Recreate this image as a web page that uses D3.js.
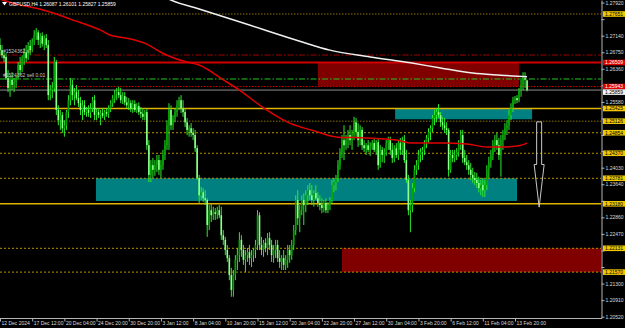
<!DOCTYPE html>
<html>
<head>
<meta charset="utf-8">
<script src="https://cdn.jsdelivr.net/npm/d3@7"></script>
<style>
body{margin:0;background:#000;}
svg{display:block;font-family:"Liberation Sans",Arial,sans-serif;}
</style>
</head>
<body>
<svg id="chart" width="625" height="328"></svg>
<script>
let symbol = 'GBPUSD,H4';

// H4 bars: open, high, low, close in points (0.0001)
let ohlc = [
[12692,12708,12668,12680],[12680,12692,12661,12668],[12668,12675,12652,12661],[12664,12673,12610,12614],
[12614,12633,12581,12591],[12591,12621,12570,12610],[12610,12628,12586,12598],[12598,12614,12581,12605],
[12605,12619,12591,12614],[12614,12652,12610,12645],[12645,12664,12621,12633],[12633,12668,12628,12661],
[12661,12685,12645,12675],[12675,12692,12652,12661],[12661,12699,12657,12690],[12690,12704,12668,12680],
[12680,12708,12675,12699],[12699,12727,12692,12715],[12715,12732,12704,12722],[12722,12727,12692,12704],
[12704,12720,12685,12713],[12713,12722,12688,12695],[12695,12715,12680,12708],[12708,12718,12685,12692],
[12692,12704,12562,12574],[12574,12598,12562,12586],[12586,12605,12567,12591],[12591,12664,12581,12652],
[12652,12657,12527,12539],[12539,12550,12503,12515],[12515,12539,12492,12527],[12527,12534,12485,12496],
[12496,12515,12476,12503],[12503,12539,12492,12534],[12534,12574,12520,12562],[12562,12614,12550,12598],
[12598,12610,12562,12574],[12574,12591,12550,12581],[12581,12598,12562,12567],[12567,12586,12546,12555],
[12555,12570,12527,12539],[12539,12562,12515,12550],[12550,12562,12527,12534],[12534,12546,12523,12539],
[12539,12550,12523,12532],[12532,12555,12520,12543],[12543,12570,12534,12562],[12562,12574,12515,12527],
[12527,12543,12515,12534],[12534,12543,12520,12527],[12527,12539,12503,12532],[12532,12543,12520,12525],
[12525,12539,12515,12534],[12534,12543,12523,12530],[12530,12550,12520,12543],[12543,12562,12534,12555],
[12555,12574,12546,12567],[12567,12586,12555,12577],[12577,12591,12562,12581],[12581,12594,12567,12574],
[12574,12591,12555,12562],[12562,12581,12553,12572],[12572,12581,12550,12557],[12557,12570,12543,12550],
[12550,12567,12539,12555],[12555,12562,12534,12543],[12543,12562,12532,12553],[12553,12562,12534,12539],
[12539,12555,12532,12548],[12548,12557,12527,12534],[12534,12546,12520,12530],[12530,12543,12515,12523],
[12523,12539,12515,12534],[12534,12543,12445,12456],[12456,12468,12369,12386],[12386,12421,12369,12409],
[12409,12426,12379,12398],[12398,12421,12384,12409],[12409,12433,12393,12421],[12421,12433,12386,12398],
[12398,12421,12379,12409],[12409,12445,12398,12433],[12433,12468,12421,12456],[12456,12515,12445,12503],
[12503,12555,12445,12539],[12539,12550,12492,12503],[12503,12527,12492,12520],[12520,12543,12510,12534],
[12534,12562,12523,12550],[12550,12570,12539,12562],[12562,12574,12532,12543],[12543,12562,12523,12534],
[12534,12543,12499,12510],[12510,12520,12480,12492],[12492,12503,12476,12496],[12496,12508,12476,12485],
[12485,12496,12468,12480],[12480,12492,12440,12449],[12449,12456,12374,12379],[12379,12386,12320,12338],
[12338,12358,12327,12345],[12345,12355,12322,12331],[12331,12350,12315,12327],[12327,12331,12240,12268],
[12268,12315,12256,12303],[12303,12320,12275,12291],[12291,12311,12280,12298],[12298,12308,12280,12294],
[12294,12311,12282,12303],[12303,12315,12284,12291],[12291,12311,12233,12244],[12244,12256,12221,12233],
[12233,12240,12197,12209],[12209,12221,12181,12190],[12190,12197,12138,12150],[12150,12167,12099,12115],
[12115,12162,12099,12150],[12150,12197,12138,12186],[12186,12214,12162,12197],[12197,12251,12181,12233],
[12233,12244,12193,12209],[12209,12221,12174,12186],[12186,12209,12157,12197],[12197,12214,12181,12204],
[12204,12221,12174,12190],[12190,12209,12169,12197],[12197,12214,12181,12209],[12209,12233,12190,12221],
[12221,12303,12209,12291],[12291,12298,12209,12221],[12221,12240,12197,12209],[12209,12233,12193,12226],
[12226,12237,12204,12214],[12214,12249,12197,12237],[12237,12251,12209,12221],[12221,12233,12181,12197],
[12197,12221,12179,12209],[12209,12233,12190,12221],[12221,12233,12181,12190],[12190,12209,12167,12181],
[12181,12197,12162,12190],[12190,12209,12162,12174],[12174,12197,12162,12186],[12186,12221,12167,12209],
[12209,12221,12179,12197],[12197,12233,12186,12221],[12221,12268,12209,12256],[12256,12338,12244,12327],
[12327,12350,12268,12284],[12284,12315,12251,12303],[12303,12338,12291,12327],[12327,12343,12268,12315],
[12315,12350,12298,12338],[12338,12362,12315,12350],[12350,12367,12327,12338],[12338,12362,12315,12327],
[12327,12350,12311,12343],[12343,12362,12327,12331],[12331,12345,12311,12320],[12320,12338,12303,12315],
[12315,12331,12296,12308],[12308,12327,12298,12320],[12320,12331,12296,12303],[12303,12322,12296,12315],
[12315,12334,12303,12327],[12327,12374,12320,12362],[12362,12379,12345,12369],[12369,12386,12350,12379],
[12379,12421,12369,12409],[12409,12449,12398,12440],[12440,12480,12426,12468],[12468,12503,12421,12456],
[12456,12480,12445,12468],[12468,12492,12449,12480],[12480,12503,12456,12468],[12468,12492,12445,12480],
[12480,12523,12468,12510],[12510,12520,12473,12487],[12487,12508,12452,12468],[12468,12503,12456,12492],
[12492,12499,12445,12456],[12456,12468,12440,12449],[12449,12461,12433,12456],[12456,12468,12440,12445],
[12445,12463,12431,12454],[12454,12468,12445,12461],[12461,12473,12440,12445],[12445,12468,12433,12463],
[12463,12473,12398,12409],[12409,12456,12403,12445],[12445,12452,12416,12433],[12433,12449,12414,12440],
[12440,12468,12431,12461],[12461,12476,12445,12468],[12468,12476,12433,12445],[12445,12461,12414,12426],
[12426,12456,12416,12449],[12449,12461,12426,12433],[12433,12468,12421,12461],[12461,12473,12433,12445],
[12445,12476,12433,12468],[12468,12480,12414,12421],[12421,12445,12367,12374],[12374,12386,12291,12303],
[12303,12327,12251,12315],[12315,12367,12298,12355],[12355,12409,12345,12398],[12398,12421,12386,12409],
[12409,12445,12398,12433],[12433,12449,12416,12440],[12440,12452,12421,12445],[12445,12468,12433,12461],
[12461,12480,12449,12473],[12473,12496,12461,12487],[12487,12503,12468,12496],[12496,12527,12487,12520],
[12520,12539,12503,12527],[12527,12543,12510,12534],[12534,12553,12520,12527],[12527,12534,12499,12510],
[12510,12523,12492,12503],[12503,12520,12485,12496],[12496,12510,12480,12492],[12492,12496,12382,12398],
[12398,12445,12391,12433],[12433,12445,12416,12426],[12426,12445,12416,12433],[12433,12449,12421,12440],
[12440,12468,12429,12456],[12456,12492,12445,12480],[12480,12492,12414,12426],[12426,12445,12409,12416],
[12416,12433,12398,12409],[12409,12421,12386,12398],[12398,12414,12374,12386],[12386,12403,12367,12379],
[12379,12393,12362,12374],[12374,12391,12355,12367],[12367,12382,12345,12355],[12355,12374,12338,12362],
[12362,12379,12334,12350],[12350,12374,12334,12362],[12362,12409,12350,12398],[12398,12429,12379,12416],
[12416,12445,12403,12433],[12433,12468,12421,12456],[12456,12480,12440,12468],[12468,12485,12445,12456],
[12456,12473,12421,12433],[12433,12480,12382,12468],[12468,12492,12445,12480],[12480,12508,12468,12496],
[12496,12515,12480,12503],[12503,12539,12492,12527],[12527,12555,12515,12543],[12543,12570,12534,12562],
[12562,12572,12553,12567],[12567,12574,12555,12562],[12562,12591,12557,12586],[12586,12610,12570,12598],
[12598,12628,12586,12614],[12614,12628,12591,12610],[12608.7,12610.1,12582.7,12585.9]
];

let timeLabels = ['12 Dec 2024','17 Dec 12:00','20 Dec 04:00','24 Dec 20:00','30 Dec 20:00','3 Jan 12:00',
    '8 Jan 04:00','10 Jan 20:00','15 Jan 12:00','20 Jan 04:00','22 Jan 20:00','27 Jan 12:00',
    '30 Jan 04:00','3 Feb 20:00','6 Feb 12:00','11 Feb 04:00','13 Feb 20:00'];
let labelEvery = 16;

let priceTicks = [1.27920,1.27530,1.27140,1.26750,1.26360,1.25970,1.25580,1.25190,1.24800,1.24420,
    1.24030,1.23640,1.23250,1.22860,1.22470,1.22080,1.21690,1.21300,1.20910,1.20520];

// moving averages [bar, price]
let maRed = [[0,1.2800],[6,1.2791],[21,1.2775],[28,1.2765],[35,1.2753],[50,1.2727],[55,1.2715],[63,1.2708],
    [73,1.2694],[80,1.2675],[83,1.2668],[93,1.2652],[99,1.2645],[111,1.2610],[119,1.2586],[131,1.2544],
    [144,1.2508],[156,1.2490],[168,1.2475],[182,1.2473],[197,1.2468],[205,1.2461],[220,1.2461],[232,1.2459],
    [242,1.2452],[250,1.2452],[257,1.2454],[262,1.2461]];
let maWhite = [[78,1.2815],[85,1.2798],[99,1.2777],[124,1.2739],[149,1.2701],[164,1.2680],[184,1.2664],
    [204,1.2650],[219,1.2638],[235,1.2626],[249,1.2621],[262,1.2617]];

// horizontal levels
let levelPrices = [1.27651,1.26684,1.26509,1.26120,1.25943,1.25859,1.25425,1.25126,1.24854,1.24370,1.23781,1.23180,1.22131,1.21570];
let levelKinds  = ['olive','sl','red','entry','reddot','bid','gold','olive','golddot','golddot','golddot','gold','golddot','golddot'];

// zones: start bar, end bar, top, bottom, kind
let zones = [
    [158, 258, 1.26509, 1.25943, 'supply'],
    [196.4, 264.5, 1.25425, 1.25171, 'demand'],
    [47.7, 257, 1.23781, 1.23246, 'demand'],
    [170, 300, 1.22131, 1.21570, 'supply']
];

let orderTexts = [['#1524362 sl', 1.26684], ['#1524362 sell 0.01', 1.26120]];
let arrowDown = [268, 1.2511, 1.2310];

let plotW = 601, plotH = 318;
let svg = d3.select('#chart');
let x = d3.scaleLinear().domain([0, 256]).range([0, 515]);
let y = d3.scaleLinear().domain([1.20489, 1.27981]).range([plotH, 0]);
let pt = v => v / 1e4;

let levelStyle = {
    olive:   {stroke:'#8a7000', dash:'1.5,1.5', w:1, label:'yellow'},
    sl:      {stroke:'#a00000', dash:'6,2,1.5,2', w:1, label:null},
    red:     {stroke:'#d00000', dash:null, w:2, label:'red'},
    entry:   {stroke:'#1fc81f', dash:'6,2,1.5,2', w:1, label:null},
    reddot:  {stroke:'#c80000', dash:'1.5,1.5', w:1, label:'red'},
    bid:     {stroke:'#8c8c8c', dash:null, w:1, label:'white'},
    gold:    {stroke:'#e0b400', dash:null, w:1.5, label:'yellow'},
    golddot: {stroke:'#b89400', dash:'2,2', w:1, label:'yellow'}
};
let labelFill = {yellow:['#f0c800','#000'], red:['#e00000','#fff'], white:['#f4f4f4','#000']};
let zoneFill = {supply:'#800000', demand:'#008080'};

svg.append('rect').attr('width',625).attr('height',328).attr('fill','#000');
svg.append('defs').append('clipPath').attr('id','plotclip')
    .append('rect').attr('width',plotW).attr('height',plotH);
let plot = svg.append('g').attr('clip-path','url(#plotclip)');

// zones
plot.selectAll('rect.zone').data(zones).join('rect').attr('class','zone')
    .attr('x', d => x(d[0])).attr('width', d => x(d[1]) - x(d[0]))
    .attr('y', d => y(d[2])).attr('height', d => y(d[3]) - y(d[2]))
    .attr('fill', d => zoneFill[d[4]]);

// levels
plot.selectAll('line.level').data(levelPrices).join('line').attr('class','level')
    .attr('x1',0).attr('x2',plotW)
    .attr('y1', d => y(d)).attr('y2', d => y(d))
    .attr('stroke', (d,i) => levelStyle[levelKinds[i]].stroke)
    .attr('stroke-width', (d,i) => levelStyle[levelKinds[i]].w)
    .attr('stroke-dasharray', (d,i) => levelStyle[levelKinds[i]].dash);

// candles
let candles = plot.append('g');
candles.selectAll('rect.wick').data(ohlc).join('rect').attr('class','wick')
    .attr('x', (d,i) => x(i) - 0.5).attr('width', 1)
    .attr('y', d => y(pt(d[1]))).attr('height', d => Math.max(1, y(pt(d[2])) - y(pt(d[1]))))
    .attr('fill', '#2ee82e');
candles.selectAll('rect.body').data(ohlc).join('rect').attr('class','body')
    .attr('x', (d,i) => x(i) - 0.8).attr('width', 1.6)
    .attr('y', d => y(pt(Math.max(d[0], d[3]))))
    .attr('height', d => Math.max(1, Math.abs(y(pt(d[0])) - y(pt(d[3])))))
    .attr('fill', d => d[3] >= d[0] ? '#00a400' : '#8cff8c');

// moving averages
let maLine = d3.line().x(d => x(d[0])).y(d => y(d[1])).curve(d3.curveMonotoneX);
plot.append('path').datum(maRed).attr('d', maLine)
    .attr('fill','none').attr('stroke','#e00000').attr('stroke-width',1.5);
plot.append('path').datum(maWhite).attr('d', maLine)
    .attr('fill','none').attr('stroke','#f0f0f0').attr('stroke-width',1.5);

// arrow
let ax = x(arrowDown[0]), ay0 = y(arrowDown[1]), ay1 = y(arrowDown[2]), aym = (ay0 + ay1) / 2;
plot.append('polygon')
    .attr('points', [[ax-2.5,ay0],[ax+2.5,ay0],[ax+2.5,aym],[ax+5,aym],[ax,ay1],[ax-5,aym],[ax-2.5,aym]].join(' '))
    .attr('fill','none').attr('stroke','#c8c8c8').attr('stroke-width',1);

// order texts
plot.selectAll('text.order').data(orderTexts).join('text').attr('class','order')
    .attr('x',3).attr('y', d => y(d[1]) - 2)
    .attr('fill','#c8c8c8').style('font-size','5px').text(d => d[0]);

// header
let last = ohlc[ohlc.length - 1];
svg.append('polygon').attr('points','2,2 7,2 4.5,5.5').attr('fill','#fff');
svg.append('text').attr('x',9).attr('y',6).attr('fill','#fff').style('font-size','5px')
    .text(symbol + '  ' + last.map(v => pt(v).toFixed(5)).join(' '));

// price axis: ticks hidden under a coloured tag are left out, like the terminal does
let tagged = levelPrices.filter((p,i) => levelStyle[levelKinds[i]].label);
let freeTicks = priceTicks.filter(t => tagged.every(p => Math.abs(y(p) - y(t)) > 5.5));
let yAxis = svg.append('g').attr('transform','translate(601.5,0)')
    .call(d3.axisRight(y).tickValues(priceTicks).tickSize(3).tickSizeOuter(0).tickPadding(1)
        .tickFormat(d => freeTicks.includes(d) ? d3.format('.5f')(d) : ''));
yAxis.selectAll('path,line').attr('stroke','#b4b4b4');
yAxis.selectAll('text').attr('fill','#dcdcdc').style('font-size','5px')
    .style('font-family','"Liberation Sans",Arial,sans-serif');

// time axis
let xAxis = svg.append('g').attr('transform','translate(0,318.5)')
    .call(d3.axisBottom(x).tickValues(d3.range(0, labelEvery * timeLabels.length, labelEvery))
        .tickSize(3).tickSizeOuter(0).tickPadding(0).tickFormat((d,i) => timeLabels[i]));
xAxis.select('.domain').remove();
xAxis.append('line').attr('x1',0).attr('x2',602).attr('stroke','#b4b4b4');
xAxis.selectAll('line').attr('stroke','#b4b4b4');
xAxis.selectAll('text').attr('fill','#dcdcdc').attr('text-anchor','start').attr('x',1)
    .style('font-size','5px').style('font-family','"Liberation Sans",Arial,sans-serif');

// coloured price labels, nudged apart when two fall on top of each other
let tagList = levelPrices.map((p,i) => ({p: p, kind: levelStyle[levelKinds[i]].label}))
    .filter(t => t.kind).sort((a,b) => b.p - a.p);
let prevY = -Infinity;
tagList.forEach(t => {
    t.ty = Math.max(y(t.p), prevY + 5.6);
    prevY = t.ty;
});
let tags = svg.append('g');
tags.selectAll('rect').data(tagList).join('rect')
    .attr('x',603).attr('y', d => d.ty - 2.8).attr('width',22).attr('height',5.6)
    .attr('fill', d => labelFill[d.kind][0]);
tags.selectAll('text').data(tagList).join('text')
    .attr('x',605).attr('y', d => d.ty + 1.8).attr('fill', d => labelFill[d.kind][1])
    .style('font-size','5px').text(d => d3.format('.5f')(d.p));
</script>
</body>
</html>
